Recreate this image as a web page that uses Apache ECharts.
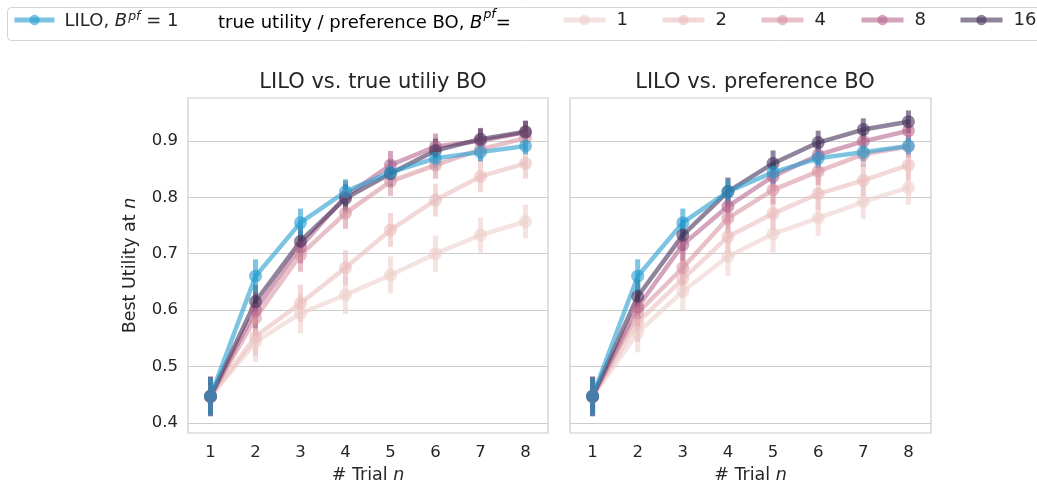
<!DOCTYPE html>
<html>
<head>
<meta charset="utf-8">
<script src="https://cdn.jsdelivr.net/npm/echarts@6/dist/echarts.min.js"></script>
<style>
  html, body { margin: 0; padding: 0; background: #fff; }
  #main { width: 1037px; height: 489px; }
</style>
</head>
<body>
<div id="main"></div>
<script>
    // trial numbers on the x axis
    var trials = ['1', '2', '3', '4', '5', '6', '7', '8'];
    var yTicks = [0.4, 0.5, 0.6, 0.7, 0.8, 0.9];

    // LILO, B^pf = 1 (same curve in both panels)
    var lilo     = [0.447, 0.660, 0.755, 0.810, 0.844, 0.869, 0.880, 0.891];
    var liloErr  = [0.034, 0.030, 0.025, 0.022, 0.020, 0.018, 0.016, 0.015];

    // left panel: true utility BO
    var true1  = [0.447, 0.543, 0.594, 0.627, 0.662, 0.700, 0.733, 0.757];
    var true2  = [0.447, 0.553, 0.612, 0.675, 0.742, 0.795, 0.837, 0.860];
    var true4  = [0.447, 0.586, 0.698, 0.772, 0.828, 0.857, 0.885, 0.905];
    var true8  = [0.447, 0.600, 0.712, 0.802, 0.857, 0.890, 0.900, 0.915];
    var true16 = [0.447, 0.615, 0.722, 0.798, 0.842, 0.883, 0.903, 0.916];

    // right panel: preference BO
    var pref1  = [0.447, 0.560, 0.633, 0.695, 0.735, 0.763, 0.792, 0.817];
    var pref2  = [0.447, 0.578, 0.655, 0.730, 0.771, 0.806, 0.830, 0.857];
    var pref4  = [0.447, 0.595, 0.675, 0.763, 0.813, 0.846, 0.876, 0.890];
    var pref8  = [0.447, 0.605, 0.716, 0.784, 0.837, 0.875, 0.899, 0.918];
    var pref16 = [0.447, 0.624, 0.733, 0.810, 0.860, 0.897, 0.920, 0.934];

    // error bar half widths per batch size
    var err1  = [0.036, 0.035, 0.035, 0.034, 0.033, 0.032, 0.031, 0.030];
    var err2  = [0.036, 0.034, 0.033, 0.031, 0.030, 0.029, 0.028, 0.027];
    var err4  = [0.035, 0.033, 0.030, 0.028, 0.026, 0.024, 0.022, 0.020];
    var err8  = [0.035, 0.032, 0.029, 0.027, 0.025, 0.023, 0.021, 0.020];
    var err16 = [0.034, 0.030, 0.028, 0.025, 0.023, 0.021, 0.020, 0.020];

    var batchNames = ['1', '2', '4', '8', '16'];
    var batchColors = ['#edd1cb', '#ebbebe', '#d996a3', '#b7678f', '#45325a'];
    var liloColor = '#249ccf';
    // left edge of each legend entry in the top box
    var legendLefts = [556, 655, 754, 854, 953];

    var FONT = 'DejaVu Sans';
    var ALPHA = 0.6;

    function errData(vals, errs) {
        var out = [];
        for (var i = 0; i < vals.length; i++) {
            out.push([i, vals[i] - errs[i], vals[i] + errs[i]]);
        }
        return out;
    }

    function addSeries(list, name, color, vals, errs, gi) {
        list.push({
            name: name + '_err',
            type: 'custom',
            xAxisIndex: gi,
            yAxisIndex: gi,
            data: errData(vals, errs),
            encode: { x: 0, y: [1, 2] },
            silent: true,
            renderItem: function (params, api) {
                var p1 = api.coord([api.value(0), api.value(1)]);
                var p2 = api.coord([api.value(0), api.value(2)]);
                return {
                    type: 'line',
                    shape: { x1: p1[0], y1: p1[1], x2: p2[0], y2: p2[1] },
                    style: { stroke: color, lineWidth: 5, opacity: ALPHA }
                };
            }
        });
        list.push({
            name: name,
            type: 'line',
            xAxisIndex: gi,
            yAxisIndex: gi,
            data: vals,
            symbol: 'circle',
            symbolSize: 13,
            lineStyle: { color: color, width: 4.5, opacity: ALPHA },
            itemStyle: { color: color, opacity: ALPHA },
            emphasis: { disabled: true },
            animation: false
        });
    }

    var panels = [
        [true1, true2, true4, true8, true16],
        [pref1, pref2, pref4, pref8, pref16]
    ];
    var errs = [err1, err2, err4, err8, err16];

    var series = [];
    for (var g = 0; g < 2; g++) {
        for (var k = 0; k < 5; k++) {
            addSeries(series, batchNames[k], batchColors[k], panels[g][k], errs[k], g);
        }
        addSeries(series, 'LILO', liloColor, lilo, liloErr, g);
    }

    function makeRich(size, supSize, lh) {
        return {
            i: { fontFamily: FONT, fontStyle: 'italic', fontSize: size, color: '#262626', lineHeight: lh, verticalAlign: 'bottom' },
            s: { fontFamily: FONT, fontStyle: 'italic', fontSize: supSize, color: '#262626', lineHeight: lh, verticalAlign: 'top', padding: [0, 0, 0, 1] },
            t: { fontFamily: FONT, fontSize: size, color: '#262626', lineHeight: lh, verticalAlign: 'bottom' }
        };
    }
    var axisRich = makeRich(17.5, 12, 22);
    var boxRich = makeRich(18, 12.5, 24);
    var legendRich = makeRich(18, 12.5, 20);

    function makeX(gi) {
        return {
            type: 'category',
            gridIndex: gi,
            data: trials,
            boundaryGap: true,
            axisLine: { show: false },
            axisTick: { show: false },
            axisLabel: { fontFamily: FONT, fontSize: 16.5, color: '#262626', margin: 11 },
            splitLine: { show: false },
            name: '{t|# Trial }{i|n}',
            nameLocation: 'middle',
            nameGap: 29,
            nameTextStyle: { rich: axisRich }
        };
    }

    function makeY(gi) {
        return {
            type: 'value',
            gridIndex: gi,
            min: 0.382,
            max: 0.976,
            axisLine: { show: false },
            axisTick: { show: false, customValues: yTicks },
            axisLabel: {
                show: gi === 0,
                customValues: yTicks,
                fontFamily: FONT, fontSize: 16.5, color: '#262626', margin: 10,
                formatter: function (v) { return v.toFixed(1); }
            },
            splitLine: { show: true, lineStyle: { color: '#cccccc', width: 1.2 } },
            name: gi === 0 ? '{t|Best Utility at }{i|n}' : '',
            nameLocation: 'middle',
            nameGap: 49,
            nameTextStyle: { rich: axisRich }
        };
    }

    var legends = [{
        data: ['LILO'],
        left: 7, top: 5,
        itemWidth: 40, itemHeight: 13,
        lineStyle: { width: 5 },
        formatter: function () { return '{t|LILO, }{i|B}{s|pf}{t| = 1}'; },
        textStyle: { rich: legendRich, padding: [0, 0, 0, 5] },
        selectedMode: false
    }];
    for (var j = 0; j < batchNames.length; j++) {
        legends.push({
            data: [batchNames[j]],
            left: legendLefts[j], top: 5,
            itemWidth: 42, itemHeight: 13,
            lineStyle: { width: 5 },
            textStyle: { fontFamily: FONT, fontSize: 18, color: '#262626', lineHeight: 20, padding: [0, 0, 0, 6] },
            selectedMode: false
        });
    }

    var option = {
        backgroundColor: '#ffffff',
        animation: false,
        title: [
            { text: 'LILO vs. true utiliy BO', left: 368, top: 67, textAlign: 'center',
              textStyle: { fontFamily: FONT, fontSize: 21, fontWeight: 'normal', color: '#262626' } },
            { text: 'LILO vs. preference BO', left: 750, top: 67, textAlign: 'center',
              textStyle: { fontFamily: FONT, fontSize: 21, fontWeight: 'normal', color: '#262626' } }
        ],
        legend: legends,
        graphic: [
            {
                type: 'rect', z: -10,
                shape: { x: 7.5, y: 7.5, width: 1040, height: 33, r: 4 },
                style: { fill: '#ffffff', stroke: '#d4d4d4', lineWidth: 1 }
            },
            {
                type: 'text',
                left: 218, top: 8,
                style: {
                    text: '{t|true utility / preference BO, }{i|B}{s|pf}{t|=}',
                    rich: boxRich
                }
            }
        ],
        grid: [
            { left: 188, top: 98, width: 360, height: 335, show: true, borderColor: '#cccccc', borderWidth: 1.2, backgroundColor: '#fff' },
            { left: 570, top: 98, width: 361, height: 335, show: true, borderColor: '#cccccc', borderWidth: 1.2, backgroundColor: '#fff' }
        ],
        xAxis: [makeX(0), makeX(1)],
        yAxis: [makeY(0), makeY(1)],
        series: series
    };

    var chart = echarts.init(document.getElementById('main'));
    chart.setOption(option);
</script>
</body>
</html>
